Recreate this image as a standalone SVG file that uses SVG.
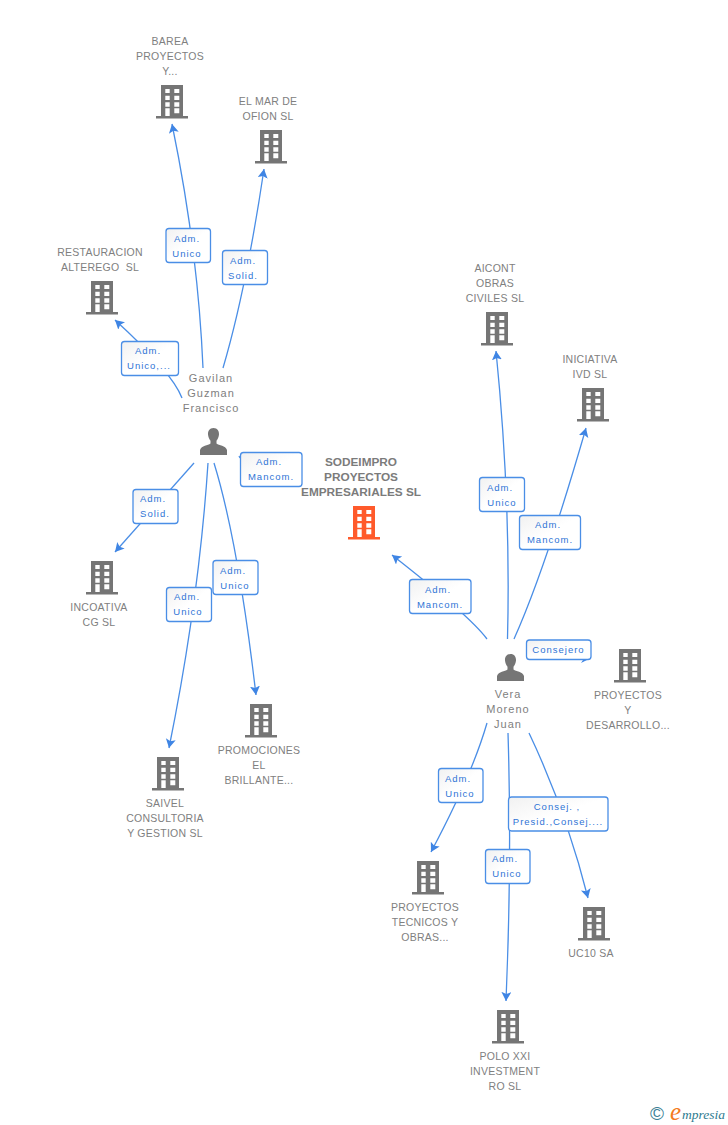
<svg xmlns="http://www.w3.org/2000/svg" width="728" height="1125" viewBox="0 0 728 1125">
<style>
text{font-family:"Liberation Sans",Arial,sans-serif}
.n{font-size:10.500px;fill:#808080;text-anchor:middle;letter-spacing:.25px}
.p{font-size:11px;fill:#808080;text-anchor:middle;letter-spacing:1px}
.t{font-size:11.800px;font-weight:bold;fill:#7b7b7b;text-anchor:middle}
.l{font-size:9.500px;fill:#2f74d6;text-anchor:middle;letter-spacing:1px}
.b{fill:url(#g);stroke:#4a8ee6;stroke-width:1.300}
.c{fill:none;stroke:#4a8ee6;stroke-width:1.300}
.a{marker-end:url(#ah)}
.k{fill:#757575}
.o{fill:#ff5a2b}
</style>
<defs>
<linearGradient id="g" x1="0" y1="0" x2="1" y2="1"><stop offset="0" stop-color="#f1f1f1"/><stop offset=".5" stop-color="#fff"/><stop offset="1" stop-color="#fff"/></linearGradient>
<marker id="ah" markerUnits="userSpaceOnUse" markerWidth="12" markerHeight="12" refX="9" refY="5" orient="auto"><path d="M0 0L9 5L0 10L2 5Z" fill="#3f85e4"/></marker>
<path id="bw" fill-rule="evenodd" d="M5 0H27V31H32V33.500H0V31H5ZM9.300 4V8H13.700V4ZM18.300 4V8H23.300V4ZM9.300 10.700V15H13.700V10.700ZM18.300 10.700V15H23.300V10.700ZM9.300 17.300V21.700H13.700V17.300ZM18.300 17.300V21.700H23.300V17.300ZM9.300 23.300V31H13.700V23.300ZM18.300 23.300V28.300H23.300V23.300Z"/>
<path id="pr" d="M13.500 0C9.500 0 7.800 3 8 6.500C8.200 9 9.300 11.500 10.500 12.700V15.500C8 17.500 1.500 17.500 0 22V27H27V22C25.500 17.500 19 17.500 16.500 15.500V12.700C17.700 11.500 18.800 9 19 6.500C19.200 3 17.500 0 13.500 0Z"/>
</defs>
<rect width="728" height="1125" fill="#fff"/>
<g id="connectors">
<path class="c a" d="M203 368Q198 250 172 124"/>
<path class="c a" d="M223 368Q246 290 264 169"/>
<path class="c a" d="M182 398Q172 372 115 320"/>
<path class="c a" d="M194 463L115 552"/>
<path class="c a" d="M208 463Q199 600 169 748"/>
<path class="c a" d="M214 463Q238 541 256 695"/>
<path class="c" d="M239 456L240 458"/>
<path class="c a" d="M487 639Q470 616 392 555"/>
<path class="c a" d="M507.500 639Q511 500 496 351"/>
<path class="c a" d="M514 639Q545 570 586 428"/>
<path class="c a" d="M487 723Q472 775 431 852"/>
<path class="c a" d="M508 733Q512 860 506 1001"/>
<path class="c a" d="M529 733Q566 811 588 898"/>
<path d="M581 663L587 660H583Z" fill="#3f85e4"/>
</g>
<g id="n-barea"><text class="n" x="170" y="45">BAREA</text><text class="n" x="170" y="60">PROYECTOS</text><text class="n" x="170" y="75">Y...</text><use href="#bw" class="k" x="156" y="85"/></g>
<g id="n-elmar"><text class="n" x="268" y="105">EL MAR DE</text><text class="n" x="268" y="120">OFION SL</text><use href="#bw" class="k" x="255" y="130"/></g>
<g id="n-restauracion"><text class="n" x="100" y="256">RESTAURACION</text><text class="n" x="100" y="271" xml:space="preserve">ALTEREGO  SL</text><use href="#bw" class="k" x="86" y="281"/></g>
<g id="n-aicont"><text class="n" x="495" y="272">AICONT</text><text class="n" x="495" y="287">OBRAS</text><text class="n" x="495" y="302">CIVILES SL</text><use href="#bw" class="k" x="481" y="312"/></g>
<g id="n-iniciativa"><text class="n" x="590" y="363">INICIATIVA</text><text class="n" x="590" y="378">IVD SL</text><use href="#bw" class="k" x="577" y="388"/></g>
<g id="n-sodeimpro"><text class="t" x="361" y="466">SODEIMPRO</text><text class="t" x="361" y="481">PROYECTOS</text><text class="t" x="361" y="496">EMPRESARIALES SL</text><use href="#bw" class="o" x="348" y="506"/></g>
<g id="n-gavilan"><text class="p" x="211" y="382">Gavilan</text><text class="p" x="211" y="397">Guzman</text><text class="p" x="211" y="412">Francisco</text><use href="#pr" class="k" x="200" y="428"/></g>
<g id="n-incoativa"><use href="#bw" class="k" x="86" y="561"/><text class="n" x="99" y="611">INCOATIVA</text><text class="n" x="99" y="626">CG SL</text></g>
<g id="n-saivel"><use href="#bw" class="k" x="152" y="757"/><text class="n" x="165" y="807">SAIVEL</text><text class="n" x="165" y="822">CONSULTORIA</text><text class="n" x="165" y="837">Y GESTION SL</text></g>
<g id="n-promociones"><use href="#bw" class="k" x="245" y="704"/><text class="n" x="259" y="754">PROMOCIONES</text><text class="n" x="259" y="769">EL</text><text class="n" x="259" y="784">BRILLANTE...</text></g>
<g id="n-vera"><use href="#pr" class="k" x="497" y="654"/><text class="p" x="508" y="698">Vera</text><text class="p" x="508" y="713">Moreno</text><text class="p" x="508" y="728">Juan</text></g>
<g id="n-desarrollo"><use href="#bw" class="k" x="614" y="649"/><text class="n" x="628" y="699">PROYECTOS</text><text class="n" x="628" y="714">Y</text><text class="n" x="628" y="729">DESARROLLO...</text></g>
<g id="n-tecnicos"><use href="#bw" class="k" x="412" y="861"/><text class="n" x="425" y="911">PROYECTOS</text><text class="n" x="425" y="926">TECNICOS Y</text><text class="n" x="425" y="941">OBRAS...</text></g>
<g id="n-uc10"><use href="#bw" class="k" x="578" y="907"/><text class="n" x="591" y="957">UC10 SA</text></g>
<g id="n-polo"><use href="#bw" class="k" x="492" y="1010"/><text class="n" x="505" y="1060">POLO XXI</text><text class="n" x="505" y="1075">INVESTMENT</text><text class="n" x="505" y="1090">RO SL</text></g>
<g id="labels">
<g><rect class="b" x="166" y="228.500" width="44.500" height="34" rx="3"/><text class="l" x="187" y="242">Adm.</text><text class="l" x="187" y="257">Unico</text></g>
<g><rect class="b" x="222.500" y="250.500" width="45" height="34" rx="3"/><text class="l" x="243" y="264">Adm.</text><text class="l" x="243" y="279">Solid.</text></g>
<g><rect class="b" x="121.500" y="341.500" width="57" height="34" rx="3"/><text class="l" x="148" y="354">Adm.</text><text class="l" x="149" y="369">Unico,...</text></g>
<g><rect class="b" x="240.500" y="452.500" width="61.500" height="34" rx="3"/><text class="l" x="269" y="465">Adm.</text><text class="l" x="271" y="480">Mancom.</text></g>
<g><rect class="b" x="133" y="489.500" width="45" height="34" rx="3"/><text class="l" x="153" y="502">Adm.</text><text class="l" x="155" y="517">Solid.</text></g>
<g><rect class="b" x="166.500" y="587.500" width="45" height="34" rx="3"/><text class="l" x="187" y="600">Adm.</text><text class="l" x="188" y="615">Unico</text></g>
<g><rect class="b" x="213" y="560.500" width="45" height="34" rx="3"/><text class="l" x="233" y="574">Adm.</text><text class="l" x="235" y="589">Unico</text></g>
<g><rect class="b" x="479.500" y="477.500" width="45" height="34" rx="3"/><text class="l" x="500" y="491">Adm.</text><text class="l" x="502" y="506">Unico</text></g>
<g><rect class="b" x="519.500" y="515.500" width="61" height="34" rx="3"/><text class="l" x="548" y="528">Adm.</text><text class="l" x="550" y="543">Mancom.</text></g>
<g><rect class="b" x="409.500" y="579.500" width="61.500" height="34" rx="3"/><text class="l" x="438" y="593">Adm.</text><text class="l" x="440" y="608">Mancom.</text></g>
<g><rect class="b" x="526.500" y="640" width="64.500" height="19.500" rx="3"/><text class="l" x="558.500" y="653" letter-spacing="1.400">Consejero</text></g>
<g><rect class="b" x="438.500" y="768.500" width="44.500" height="34" rx="3"/><text class="l" x="458" y="782">Adm.</text><text class="l" x="460" y="797">Unico</text></g>
<g><rect class="b" x="508.500" y="797" width="99.500" height="34" rx="3"/><text class="l" x="557" y="810">Consej. ,</text><text class="l" x="558" y="825">Presid.,Consej....</text></g>
<g><rect class="b" x="485.500" y="849.500" width="44.500" height="34" rx="3"/><text class="l" x="505" y="862">Adm.</text><text class="l" x="507" y="877">Unico</text></g>
</g>
<g id="logo"><text x="650" y="1120" font-size="19" fill="#3c7f96">©</text><text x="670" y="1120" font-size="25" font-style="italic" fill="#f47b20" style="font-family:'Liberation Serif',serif">e</text><text x="682" y="1119" font-size="13.500" font-style="italic" fill="#2e7a8f" style="font-family:'Liberation Serif',serif">mpresia</text></g>
</svg>
